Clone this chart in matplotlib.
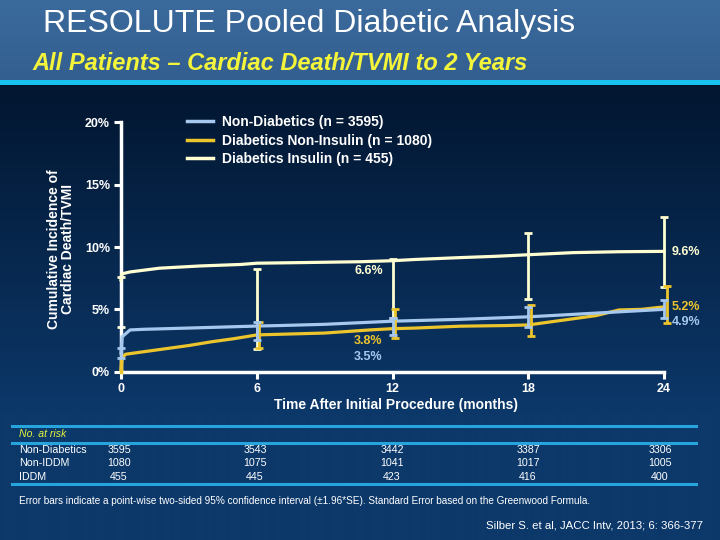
#!/usr/bin/env python3
import numpy as np
import matplotlib
matplotlib.use("Agg")
import matplotlib.pyplot as plt
from matplotlib.lines import Line2D

plt.rcParams["font.family"] = ["Liberation Sans", "DejaVu Sans"]

W, H = 720, 540

# Kaplan-Meier style curves (months, cumulative %)
nd_t = [0, 0.05, 0.4, 1, 3, 6, 7, 9, 12, 15, 18, 21, 24]
nd_y = [1.5, 2.8, 3.35, 3.4, 3.5, 3.66, 3.7, 3.8, 4.05, 4.2, 4.4, 4.7, 5.0]

ni_t = [0, 0.05, 0.2, 1, 2, 3, 4, 5, 6, 7, 9, 11, 12, 13, 15, 17, 18, 19, 21, 22, 23, 24]
ni_y = [0.2, 1.1, 1.4, 1.6, 1.85, 2.1, 2.4, 2.65, 2.95, 3.0, 3.1, 3.35, 3.45, 3.5,
        3.65, 3.7, 3.75, 4.0, 4.5, 4.95, 5.0, 5.2]

ins_t = [0, 0.05, 0.4, 1.7, 3.5, 5.3, 6, 8, 10.6, 12, 13, 15, 16.5, 18, 20, 22, 24]
ins_y = [7.35, 7.85, 8.0, 8.3, 8.48, 8.6, 8.7, 8.75, 8.82, 8.9, 9.0, 9.15, 9.25,
         9.38, 9.55, 9.62, 9.65]

# confidence interval bars (low, high)
bar_months = [6, 12, 18, 24]
ins_lo = [1.8, 4.3, 5.83, 6.8]
ins_hi = [8.2, 9.0, 11.1, 12.4]
ni_lo = [1.87, 2.68, 2.9, 3.88]
ni_hi = [4.0, 5.0, 5.35, 6.87]
nd_lo = [2.55, 2.94, 3.6, 4.28]
nd_hi = [4.0, 4.3, 5.16, 5.75]

labels = ["Non-Diabetics (n = 3595)", "Diabetics Non-Insulin (n = 1080)",
          "Diabetics Insulin (n = 455)"]
ann_12 = ["6.6%", "3.8%", "3.5%"]
ann_24 = ["9.6%", "5.2%", "4.9%"]

risk_rows = ["Non-Diabetics", "Non-IDDM", "IDDM"]
risk_nd = [3595, 3543, 3442, 3387, 3306]
risk_ni = [1080, 1075, 1041, 1017, 1005]
risk_ins = [455, 445, 423, 416, 400]

C_ND = "#a6c8ee"
C_NI = "#ecc42c"
C_INS = "#ffffd2"
C_LINE = "#27a4dc"


def fx(px):
    return px / W


def fy(py):
    return 1 - py / H


fig = plt.figure(figsize=(7.2, 5.4), dpi=100)

# background: header band, cyan rule, dark blue gradient
bg = np.zeros((H, 1, 3))
top = np.array([0x3b, 0x6a, 0x9c]) / 255
topb = np.array([0x33, 0x5f, 0x90]) / 255
dark = np.array([0x02, 0x16, 0x30]) / 255
low = np.array([0x0c, 0x38, 0x6a]) / 255
for r in range(H):
    if r < 80:
        f = r / 80
        bg[r, 0] = top * (1 - f) + topb * f
    elif r < 85:
        bg[r, 0] = np.array([0x1a, 0xc2, 0xf0]) / 255
    else:
        f = min(1.0, (r - 85) / 330)
        bg[r, 0] = dark * (1 - f) + low * f
bgax = fig.add_axes([0, 0, 1, 1])
bgax.imshow(bg, aspect="auto", extent=[0, 1, 0, 1], interpolation="bilinear")
bgax.axis("off")

fig.text(fx(43), fy(24), "RESOLUTE Pooled Diabetic Analysis", color="white",
         fontsize=23, va="center", ha="left")
fig.text(fx(32), fy(64), "All Patients \u2013 Cardiac Death/TVMI to 2 Years",
         color="#f4f43a", fontsize=17, style="italic", weight="bold",
         va="center", ha="left")

# main axes placement
x0px, pxm = 121, 22.63
y0px, pxp = 371.7, 12.47
xl, xr = -0.3, 24.6
yb, yt = -0.3, 20.3
left = (x0px + xl * pxm) / W
right = (x0px + xr * pxm) / W
bottom = (y0px - yb * pxp)
topp = (y0px - yt * pxp)
ax = fig.add_axes([left, 1 - bottom / H, right - left, (bottom - topp) / H])
ax.set_facecolor("none")
ax.set_xlim(xl, xr)
ax.set_ylim(yb, yt)

bm = np.array(bar_months, dtype=float)
ek = dict(fmt="none", capsize=3, elinewidth=2, capthick=2, zorder=2)
lo, hi = np.array(ins_lo), np.array(ins_hi)
ax.errorbar(bm, (lo + hi) / 2, yerr=[(hi - lo) / 2, (hi - lo) / 2], ecolor=C_INS, **ek)
ax.errorbar([0], [5.6], yerr=[[2.0], [2.0]], ecolor=C_INS, **ek)

ax.plot(ins_t, ins_y, color=C_INS, lw=2.3, zorder=3, clip_on=False)
ax.plot(ni_t, ni_y, color=C_NI, lw=2.3, zorder=4, clip_on=False)
ax.plot(nd_t, nd_y, color=C_ND, lw=2.3, zorder=5, clip_on=False)
ax.plot([0, 0], [0, 1.1], color=C_NI, lw=2.5, zorder=4)

lo, hi = np.array(ni_lo), np.array(ni_hi)
ax.errorbar(bm + 0.12, (lo + hi) / 2, yerr=[(hi - lo) / 2, (hi - lo) / 2], ecolor=C_NI,
            **{**ek, "zorder": 6})
lo, hi = np.array(nd_lo), np.array(nd_hi)
ax.errorbar(bm, (lo + hi) / 2, yerr=[(hi - lo) / 2, (hi - lo) / 2], ecolor=C_ND,
            **{**ek, "zorder": 7})
ax.errorbar([0], [1.5], yerr=[[0.4], [0.4]], ecolor=C_ND, **{**ek, "zorder": 7})

for sp in ["top", "right"]:
    ax.spines[sp].set_visible(False)
for sp in ["left", "bottom"]:
    ax.spines[sp].set_color("white")
    ax.spines[sp].set_linewidth(2.5)
    ax.spines[sp].set_position(("data", 0))
ax.spines["left"].set_bounds(0, 20)
ax.spines["bottom"].set_bounds(0, 24)
ax.set_xticks([0, 6, 12, 18, 24])
ax.set_xticklabels(["0", "6", "12", "18", "24"])
ax.set_yticks([0, 5, 10, 15, 20])
ax.set_yticklabels(["0%", "5%", "10%", "15%", "20%"])
ax.tick_params(colors="white", width=2.2, length=5, labelsize=9)
ax.tick_params(axis="y", pad=3)
ax.tick_params(axis="x", pad=3)
for t in ax.get_xticklabels() + ax.get_yticklabels():
    t.set_fontweight("bold")
    t.set_color("white")

ax.set_xlabel("Time After Initial Procedure (months)", color="white",
              fontsize=10, weight="bold", labelpad=2)
fig.text(fx(61), fy(249), "Cumulative Incidence of\nCardiac Death/TVMI",
         rotation=90, color="white", fontsize=10, weight="bold",
         ha="center", va="center", linespacing=1.0)

# value annotations
cols = [C_INS, C_NI, C_ND]
for txt, yy, c in zip(ann_12, [8.1, 2.49, 1.2], cols):
    ax.text(10.3, yy, txt, color=c, fontsize=9, weight="bold", va="center", ha="left")
for txt, yy, c in zip(ann_24, [9.6, 5.2, 4.0], cols):
    ax.text(24.33, yy, txt, color=c, fontsize=9, weight="bold", va="center",
            ha="left", clip_on=False)

handles = [Line2D([], [], color=c, lw=2.5) for c in [C_ND, C_NI, C_INS]]
leg = ax.legend(handles, labels, loc="upper left", bbox_to_anchor=(fx(180), fy(108)),
                bbox_transform=fig.transFigure, frameon=False, handlelength=1.85,
                handletextpad=0.65, labelspacing=0.33, borderpad=0,
                prop=dict(size=10, weight="bold"))
for t in leg.get_texts():
    t.set_color("white")

# number at risk table
for yy in [426, 443, 484]:
    fig.add_artist(Line2D([fx(12), fx(696)], [fy(yy), fy(yy)], color=C_LINE, lw=2.2))
fig.text(fx(19), fy(434), "No. at risk", color="#e6f23c", fontsize=7.6,
         style="italic", va="center")
col_x = [119, 255, 392, 528, 660]
for name, vals, yy in zip(risk_rows, [risk_nd, risk_ni, risk_ins], [450, 463, 477]):
    fig.text(fx(19), fy(yy), name, color="white", fontsize=7.7, va="center")
    for cx, v in zip(col_x, vals):
        fig.text(fx(cx), fy(yy), str(v), color="white", fontsize=7.7,
                 va="center", ha="center")

fig.text(fx(19), fy(501),
         "Error bars indicate a point-wise two-sided 95% confidence interval "
         "(\u00b11.96*SE). Standard Error based on the Greenwood Formula.",
         color="white", fontsize=7.2, va="center")
fig.text(fx(703), fy(525), "Silber S. et al, JACC Intv, 2013; 6: 366-377",
         color="white", fontsize=8.2, va="center", ha="right")

fig.savefig("out.png", dpi=100)
